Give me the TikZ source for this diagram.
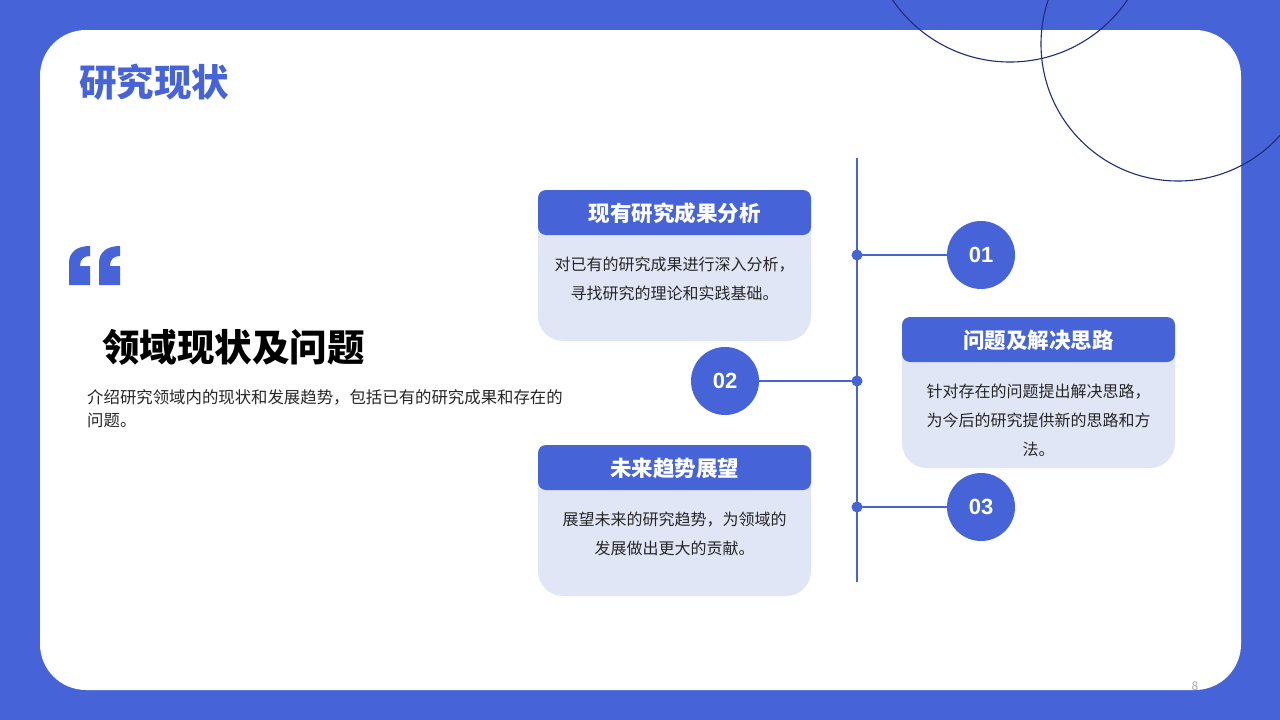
\documentclass[tikz,border=0pt]{standalone}
\usepackage{fontspec}
\setmainfont{Noto Sans CJK SC}
\newfontfamily\numfont{Liberation Sans}
\usetikzlibrary{calc}

\definecolor{mainblue}{HTML}{4664D8}
\definecolor{cardbg}{HTML}{E1E6F7}
\definecolor{ringcol}{HTML}{1E2D78}
\definecolor{bodytext}{HTML}{262626}

\begin{document}
\begin{tikzpicture}[x=1pt, y=-1pt, line cap=round, line join=round,
  headtxt/.style={text=white, inner sep=0pt, font=\fontsize{21.5}{24}\selectfont\bfseries},
  bodytxt/.style={text=bodytext, inner sep=0pt, anchor=north, align=center,
    font=\fontsize{16}{29}\selectfont},
  numdot/.style={circle, fill=mainblue, minimum size=68pt, inner sep=0pt,
    text=white, font=\numfont\fontsize{22}{24}\selectfont\bfseries},
  joint/.style={circle, fill=mainblue, minimum size=11pt, inner sep=0pt},
  link/.style={mainblue, line width=2pt}]
% ---------- parameters ----------
\def\cw{273}        % card width
\def\ch{151}        % card height
\def\hh{45}         % header height

% ---------- frame ----------
\clip (0,0) rectangle (1280,720);
\fill[mainblue] (0,0) rectangle (1280,720);
\fill[white, rounded corners=46] (40,30) rectangle (1241,690);

% decorative rings
\draw[ringcol, line width=1.1pt] (1010,-80) circle (142);
\draw[ringcol, line width=1.1pt] (1178,44) circle (137);

% ---------- left side ----------
\node[anchor=west, inner sep=0pt, text=mainblue, font=\fontsize{37.5}{40}\selectfont\bfseries]
  (title) at (79,82) {研究现状};

% quote marks
\foreach \qx in {69,99}{
  \fill[mainblue, shift={(\qx,0)}]
    (0,285) -- (0,263) .. controls (0,252) and (8,246) .. (21,246)
    -- (21,256) .. controls (15,256) and (11,259) .. (11,266)
    -- (21,266) -- (21,285) -- cycle;
}

\node[anchor=west, inner sep=0pt, font=\fontsize{37.5}{40}\selectfont\bfseries]
  (topic) at (102,347) {领域现状及问题};
\node[anchor=north west, inner sep=0pt, align=left, text=bodytext,
  font=\fontsize{16.4}{23}\selectfont] (intro) at (87,389)
  {介绍研究领域内的现状和发展趋势，包括已有的研究成果和存在的\\问题。};

% ---------- cards ----------
\foreach \cx/\cy/\ttl/\txt [count=\i] in {
  538/190/现有研究成果分析/{对已有的研究成果进行深入分析，\\寻找研究的理论和实践基础。},
  902/317/问题及解决思路/{针对存在的问题提出解决思路，\\为今后的研究提供新的思路和方\\法。},
  538/445/未来趋势展望/{展望未来的研究趋势，为领域的\\发展做出更大的贡献。}}{
  \fill[cardbg, rounded corners=25] (\cx,\cy+20) rectangle (\cx+\cw,\cy+\ch);
  \fill[cardbg] (\cx,\cy+20) rectangle (\cx+\cw,\cy+70);
  \fill[mainblue, rounded corners=8] (\cx,\cy) rectangle (\cx+\cw,\cy+\hh);
  \node[headtxt] (head\i) at (\cx+\cw/2,\cy+23) {\ttl};
  \node[bodytxt] (body\i) at (\cx+\cw/2,\cy+67) {\txt};
}

% ---------- timeline ----------
\coordinate (ttop) at (857,158);
\coordinate (tbot) at (857,582);
\draw[mainblue, line width=2.2pt, line cap=butt] (ttop) -- (tbot);

\node[joint] (j1) at (857,255) {};
\node[joint] (j2) at (857,381) {};
\node[joint] (j3) at (857,507) {};

\node[numdot] (n1) at (981,255) {01};
\node[numdot] (n2) at (725,381) {02};
\node[numdot] (n3) at (981,507) {03};

\draw[link] (j1) -- (n1);
\draw[link] (j2) -- (n2);
\draw[link] (j3) -- (n3);

% page number
\node[text=gray!70, inner sep=0pt, font=\fontsize{12}{14}\selectfont] (pageno) at (1195,686) {8};
\end{tikzpicture}
\end{document}
